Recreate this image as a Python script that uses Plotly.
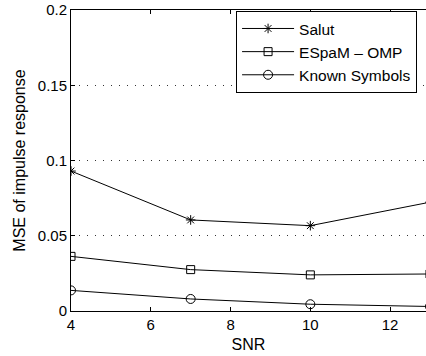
import plotly.graph_objects as go

snr = [4, 7, 10, 13]
salut = [0.093, 0.0605, 0.0567, 0.0723]
espam_omp = [0.0363, 0.0275, 0.0240, 0.0246]
known_symbols = [0.0137, 0.0080, 0.0045, 0.0030]

x_ticks = [4, 6, 8, 10, 12]
y_ticks = [0, 0.05, 0.1, 0.15, 0.2]
y_tick_labels = ["0", "0.05", "0.1", "0.15", "0.2"]

series = [
    ("Salut", salut, "asterisk-open", 8),
    ("ESpaM \u2013 OMP", espam_omp, "square-open", 8),
    ("Known Symbols", known_symbols, "circle-open", 9),
]

FAM = "Liberation Sans, Arial, sans-serif"

fig = go.Figure()
for name, vals, sym, size in series:
    fig.add_trace(go.Scatter(
        x=snr, y=vals, name=name, mode="lines+markers",
        line=dict(color="black", width=1),
        marker=dict(symbol=sym, size=size, color="black",
                    line=dict(color="black", width=1)),
    ))

tick_font = dict(family=FAM, size=15, color="black")
title_font = dict(family=FAM, size=16, color="black")

fig.update_layout(
    width=426, height=356,
    margin=dict(l=71, r=0, t=10, b=45),
    paper_bgcolor="white", plot_bgcolor="white",
    font=tick_font,
    showlegend=True,
    legend=dict(
        x=0.465, y=0.997, xanchor="left", yanchor="top",
        bgcolor="white", bordercolor="black", borderwidth=1,
        font=dict(family=FAM, size=15.5, color="black"),
        itemwidth=52, tracegroupgap=0,
    ),
    xaxis=dict(
        range=[4, 12.9], tickvals=x_ticks,
        showline=True, linecolor="black", linewidth=1, mirror="ticks",
        ticks="inside", ticklen=4, tickcolor="black",
        showgrid=False, zeroline=False, tickfont=tick_font,
        title=dict(text="SNR", standoff=6, font=title_font),
    ),
    yaxis=dict(
        range=[0, 0.2], tickvals=y_ticks, ticktext=y_tick_labels,
        showline=True, linecolor="black", linewidth=1, mirror=False,
        ticks="inside", ticklen=4, tickcolor="black",
        showgrid=True, gridcolor="#333333", gridwidth=1, griddash="1px,7px",
        zeroline=False, tickfont=tick_font,
        title=dict(text="MSE of impulse response", standoff=8, font=title_font),
    ),
)

fig.write_html("out.html")
